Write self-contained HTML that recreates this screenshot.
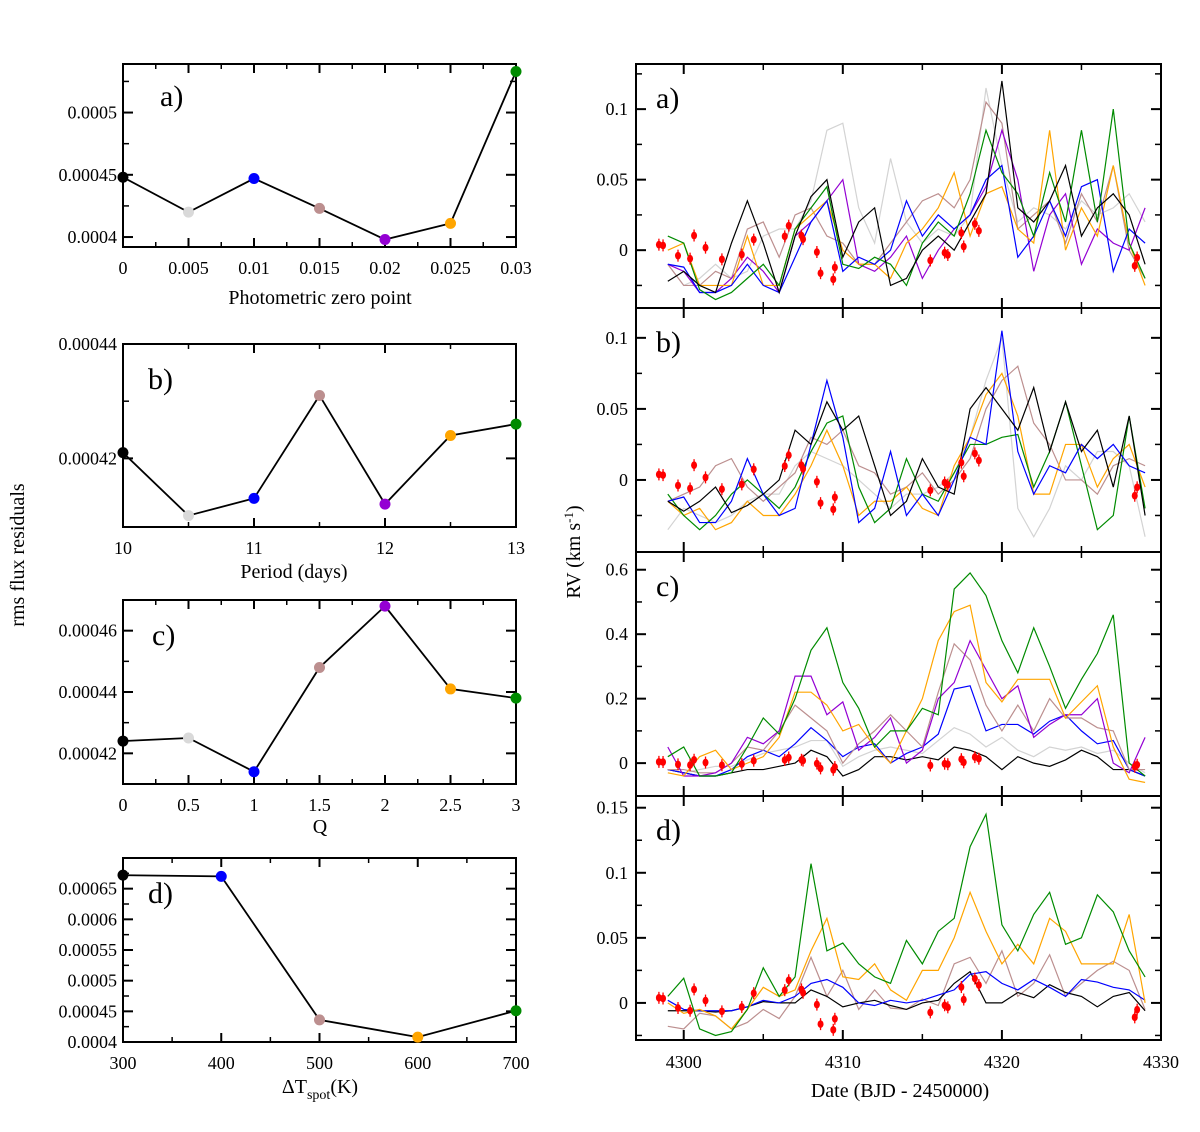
<!DOCTYPE html>
<html><head><meta charset="utf-8">
<style>
html,body{margin:0;padding:0;background:#fff;}
svg{display:block;font-family:"Liberation Serif",serif;}
</style></head>
<body>
<svg id="fig" width="1200" height="1132" viewBox="0 0 1200 1132" xmlns="http://www.w3.org/2000/svg"></svg>
<script>
// ---------- LEFT PANELS DATA ----------
const zpX = [0, 0.005, 0.01, 0.015, 0.02, 0.025, 0.03];
const zpRms = [0.000448, 0.000420, 0.000447, 0.000423, 0.000398, 0.000411, 0.000533];
const zpColors = ["#000000","#d9d9d9","#0000ff","#bc8f8f","#9400d3","#ffa500","#008b00"];
const perX = [10, 10.5, 11, 11.5, 12, 12.5, 13];
const perRms = [0.000421, 0.000410, 0.000413, 0.000431, 0.000412, 0.000424, 0.000426];
const qX = [0, 0.5, 1, 1.5, 2, 2.5, 3];
const qRms = [0.000424, 0.000425, 0.000414, 0.000448, 0.000468, 0.000441, 0.000438];
const dtX = [300, 400, 500, 600, 700];
const dtRms = [0.000672, 0.000670, 0.000436, 0.000408, 0.000451];
const dtColors = ["#000000","#0000ff","#bc8f8f","#ffa500","#008b00"];
const zpTicks = ["0","0.005","0.01","0.015","0.02","0.025","0.03"];
const perTicks = ["10","11","12","13"];
const qTicks = ["0","0.5","1","1.5","2","2.5","3"];
const dtTicks = ["300","400","500","600","700"];

// ---------- RIGHT PANELS DATA ----------
const dates = [4299,4300,4301,4302,4303,4304,4305,4306,4307,4308,4309,4310,4311,4312,4313,4314,4315,4316,4317,4318,4319,4320,4321,4322,4323,4324,4325,4326,4327,4328,4329];
const obsDates = [4298.44,4298.7,4299.64,4300.4,4300.65,4301.37,4302.4,4303.65,4304.4,4306.35,4306.6,4307.4,4307.5,4308.37,4308.6,4309.4,4309.5,4315.5,4316.4,4316.6,4317.45,4317.6,4318.3,4318.55,4328.35,4328.5];
const obsRV = [0.0039,0.0034,-0.0039,-0.006,0.0104,0.0018,-0.0065,-0.0031,0.0075,0.0098,0.0174,0.0104,0.0078,-0.0013,-0.0163,-0.0207,-0.0122,-0.0073,-0.0018,-0.0034,0.0122,0.0026,0.0187,0.0137,-0.0111,-0.0052];
// panel a (units 0.01 km/s)
const aGray = [-1.0,-2.5,-2.0,-1.0,-2.0,-1.5,1.0,1.5,1.5,3.5,8.5,9.0,3.0,0.5,6.5,2.0,0.5,1.5,1.0,2.5,11.5,6.0,2.0,3.0,2.5,1.5,3.5,2.5,3.0,4.0,2.0];
const aRosy = [-1.0,-2.5,-2.5,-1.5,-2.0,1.5,2.0,-0.5,2.5,3.0,1.0,0.5,-1.0,-1.0,0.5,2.0,3.5,4.0,3.0,5.0,10.5,9.0,1.5,2.5,3.5,0.5,4.0,2.0,6.0,0.0,-2.0];
const aPurple = [-1.0,-1.5,-3.0,-3.0,-2.0,-0.5,-1.5,-3.0,1.0,2.0,3.5,5.0,-1.0,-1.5,-0.5,1.0,-2.0,0.0,1.5,2.5,4.5,8.5,5.0,-1.5,2.5,4.0,-1.0,1.5,0.5,0.0,3.0];
const aOrange = [0.0,0.5,-2.5,-2.5,-2.5,1.0,-2.5,-2.5,1.5,2.5,3.5,0.0,-1.0,-1.0,-2.0,0.5,1.5,3.0,5.5,1.0,4.0,4.5,1.5,0.5,8.5,0.0,3.0,1.0,6.0,0.5,-2.5];
const aBlue = [-1.0,-1.2,-3.0,-3.0,-2.5,-1.0,-2.5,-3.0,-0.5,2.0,3.5,-1.5,-0.5,-1.0,0.0,3.5,1.0,2.5,1.5,2.5,5.0,6.0,-0.5,1.0,3.5,1.0,4.5,5.0,-1.5,1.5,0.5];
const aGreen = [1.0,0.5,-2.8,-3.5,-3.0,-2.0,-1.0,-2.5,1.5,3.0,4.5,-1.0,-1.3,-0.5,-1.0,-2.5,0.5,2.0,1.0,4.0,8.5,5.5,4.0,1.0,5.5,2.0,8.5,2.0,10.0,0.5,-2.0];
const aBlack = [-2.2,-1.5,-2.5,-3.0,0.5,3.5,0.5,-3.0,1.0,3.8,5.0,-0.5,2.0,3.0,-2.5,-2.0,0.0,1.0,0.0,2.0,4.0,12.0,3.0,2.0,3.5,6.0,1.0,3.0,4.0,2.5,-1.0];
// panel b (units 0.01 km/s)
const bGray = [-3.5,-2.0,-2.5,-3.0,-2.5,-1.5,-1.0,-1.0,1.0,2.0,1.5,1.0,0.0,-1.0,-2.0,-1.0,-1.0,-0.5,0.5,3.0,7.0,10.0,-2.0,-4.0,-2.0,1.0,0.0,2.0,2.0,1.0,-4.0];
const bRosy = [-1.5,-1.0,-0.5,1.0,1.5,-0.5,-1.5,-0.5,0.5,3.0,2.5,3.5,1.0,0.5,-1.0,-0.5,0.5,-1.0,0.0,1.5,5.0,7.0,8.0,4.0,2.5,0.0,0.0,-1.0,1.0,1.5,1.0];
const bOrange = [-1.5,-2.5,-2.0,-3.5,-3.0,-1.5,-2.5,-2.5,-1.0,1.0,3.5,1.0,-2.5,-1.5,-1.5,-0.5,-2.0,-2.5,1.0,3.0,6.0,7.5,4.5,-1.0,-1.0,2.5,2.5,-0.5,1.5,2.5,-0.5];
const bGreen = [-1.0,-2.5,-3.5,-2.5,-1.0,0.0,-1.0,-2.0,-0.5,2.0,4.0,4.5,-0.5,-3.0,-2.0,1.5,-1.0,-1.5,0.5,2.5,2.5,3.0,3.2,-0.5,2.0,5.5,1.0,-3.5,-2.5,4.5,-2.0];
const bBlue = [-1.5,-1.2,-3.0,-3.0,-1.5,1.5,-1.0,-2.5,-2.0,2.5,7.0,3.0,-3.0,-2.0,2.0,-2.5,-1.0,-2.5,0.0,3.0,2.5,10.5,2.0,-1.0,1.0,0.5,2.5,1.5,2.5,1.0,0.5];
const bBlack = [-1.5,-2.2,-1.5,-0.5,-2.3,-1.8,-1.0,0.0,3.5,2.5,5.5,3.5,4.5,1.0,-2.5,-1.5,1.5,-0.5,-1.0,5.0,6.5,5.0,3.5,6.5,2.0,5.5,2.0,3.5,-0.5,4.5,-2.5];
// panel c (km/s)
const cGray = [-0.02,-0.03,-0.02,-0.01,-0.01,0.01,0.03,0.04,0.05,0.07,0.07,-0.01,0.02,0.04,0.05,0.04,0.03,0.07,0.11,0.09,0.05,0.08,0.04,0.02,0.05,0.04,0.05,0.03,0.04,0.0,-0.03];
const cBlack = [-0.02,-0.03,-0.04,-0.04,-0.03,-0.02,-0.02,-0.01,0.0,0.04,0.02,-0.04,-0.02,0.02,0.02,0.01,0.02,0.01,0.05,0.04,0.02,-0.02,0.02,0.0,-0.01,0.01,0.04,0.02,-0.02,-0.02,-0.04];
const cBlue = [-0.02,-0.03,-0.04,-0.04,-0.02,0.02,0.04,0.02,0.06,0.11,0.07,0.02,0.05,0.06,0.0,0.03,0.05,0.09,0.23,0.24,0.10,0.12,0.12,0.09,0.13,0.15,0.10,0.06,0.07,-0.02,-0.04];
const cRosy = [-0.02,-0.02,-0.03,-0.03,0.0,0.05,0.04,0.10,0.18,0.14,0.10,0.0,0.06,0.10,0.15,0.10,0.05,0.22,0.37,0.32,0.18,0.10,0.18,0.10,0.20,0.14,0.14,0.11,0.10,-0.02,-0.02];
const cPurple = [0.05,-0.04,-0.04,-0.03,0.0,0.08,0.06,0.10,0.27,0.27,0.15,0.19,0.04,0.08,0.14,0.0,0.04,0.20,0.25,0.38,0.29,0.20,0.24,0.08,0.12,0.15,0.15,0.20,0.0,-0.03,0.08];
const cOrange = [-0.03,-0.04,0.02,0.04,-0.02,0.0,0.02,0.08,0.22,0.22,0.18,0.10,0.12,0.05,0.0,0.10,0.20,0.38,0.47,0.49,0.25,0.19,0.26,0.26,0.26,0.14,0.19,0.24,0.05,-0.05,-0.06];
const cGreen = [0.02,0.05,-0.04,-0.04,-0.03,0.05,0.14,0.09,0.20,0.35,0.42,0.25,0.17,0.05,0.10,0.10,0.17,0.15,0.54,0.59,0.52,0.38,0.28,0.42,0.30,0.17,0.26,0.34,0.46,0.0,-0.04];
// panel d (km/s)
const dRosy = [-0.018,-0.02,-0.008,-0.01,-0.02,-0.015,-0.005,-0.012,0.005,0.035,0.005,0.025,-0.005,0.01,-0.004,-0.005,0.003,-0.002,0.03,0.035,0.015,0.04,0.005,0.015,0.037,0.005,0.015,0.025,0.032,0.025,-0.005];
const dBlack = [-0.006,-0.006,-0.006,-0.007,-0.006,-0.003,0.001,0.0,0.0,0.01,0.005,-0.003,0.0,0.002,-0.002,-0.005,0.0,0.002,0.015,0.024,0.0,0.0,0.008,0.004,0.014,0.008,0.005,-0.003,0.005,0.008,-0.006];
const dBlue = [0.002,-0.005,-0.006,-0.006,-0.006,-0.003,0.002,0.0,0.005,0.015,0.018,0.012,0.0,-0.002,0.002,0.0,0.002,0.006,0.01,0.022,0.024,0.015,0.01,0.018,0.012,0.005,0.018,0.016,0.012,0.01,0.002];
const dOrange = [0.0,-0.008,-0.005,-0.01,-0.02,-0.005,0.012,0.005,0.01,0.04,0.065,0.02,0.018,0.03,0.01,0.002,0.025,0.025,0.05,0.085,0.055,0.03,0.045,0.03,0.065,0.055,0.03,0.03,0.03,0.068,0.0];
const dGreen = [0.005,0.019,-0.02,-0.025,-0.022,-0.005,0.027,0.005,0.02,0.107,0.04,0.046,0.03,0.02,0.015,0.048,0.03,0.055,0.065,0.12,0.145,0.06,0.04,0.068,0.085,0.045,0.05,0.083,0.07,0.04,0.02];
const rvTicksA = ["0","0.05","0.1"];
const rvTicksC = ["0","0.2","0.4","0.6"];
const rvTicksD = ["0","0.05","0.1","0.15"];
const dateTicks = ["4300","4310","4320","4330"];

// ---------- DRAWING ----------
const svg = document.getElementById('fig');
const NS = 'http://www.w3.org/2000/svg';
const TICK_FS = 18, TITLE_FS = 20, LABEL_FS = 30;
function mk(tag, attrs, parent){const e=document.createElementNS(NS,tag);for(const k in attrs)e.setAttribute(k,attrs[k]);(parent||svg).appendChild(e);return e;}
function txt(s, x, y, size, anchor, parent){const t=mk('text',{x:x,y:y,'font-size':size,'text-anchor':anchor||'middle',fill:'#000'},parent);t.textContent=s;return t;}
function lin(d0,d1,r0,r1){return v=>r0+(v-d0)/(d1-d0)*(r1-r0);}

// Left panels
function leftPanel(name, box, xd, yd, xs, ys, colors, xMaj, xMin, yMaj, yMin, xLabels, yLabels, yLabelVals, label){
  const g = mk('g',{});
  
  
  const X = lin(xd[0],xd[1],box.l,box.r), Y = lin(yd[0],yd[1],box.b,box.t);
  mk('rect',{x:box.l,y:box.t,width:box.r-box.l,height:box.b-box.t,fill:'none',stroke:'#000','stroke-width':2},g);
  xMaj.forEach(v=>{const x=X(v);mk('line',{x1:x,y1:box.b,x2:x,y2:box.b-9,stroke:'#000','stroke-width':2},g);mk('line',{x1:x,y1:box.t,x2:x,y2:box.t+9,stroke:'#000','stroke-width':2},g);});
  xMin.forEach(v=>{const x=X(v);mk('line',{x1:x,y1:box.b,x2:x,y2:box.b-5,stroke:'#000','stroke-width':1.5},g);mk('line',{x1:x,y1:box.t,x2:x,y2:box.t+5,stroke:'#000','stroke-width':1.5},g);});
  yMaj.forEach(v=>{const y=Y(v);mk('line',{x1:box.l,y1:y,x2:box.l+10,y2:y,stroke:'#000','stroke-width':2},g);mk('line',{x1:box.r,y1:y,x2:box.r-10,y2:y,stroke:'#000','stroke-width':2},g);});
  yMin.forEach(v=>{const y=Y(v);mk('line',{x1:box.l,y1:y,x2:box.l+6,y2:y,stroke:'#000','stroke-width':1.5},g);mk('line',{x1:box.r,y1:y,x2:box.r-6,y2:y,stroke:'#000','stroke-width':1.5},g);});
  xLabels.forEach((s,i)=>{const t=txt(s,X(parseFloat(s)),box.b+27,TICK_FS,'middle',g);});
  yLabels.forEach((s,i)=>{const t=txt(s,box.l-6,Y(yLabelVals[i])+6,TICK_FS,'end',g);});
  const pts = xs.map((v,i)=>X(v)+','+Y(ys[i])).join(' ');
  const pl = mk('polyline',{points:pts,fill:'none',stroke:'#000','stroke-width':1.8},g);
  
  
  xs.forEach((v,i)=>{const c=mk('circle',{cx:X(v),cy:Y(ys[i]),r:5.5,fill:colors[i]},g);
    
    });
  const lt = txt(label.t, label.x, label.y, LABEL_FS, 'start', g);
  
  
  return {g:g, X:X, Y:Y};
}
const LL=123, LR=516;
leftPanel('panel-a-zero-point',{l:LL,r:LR,t:64,b:247},[0,0.03],[0.000392,0.000539],zpX,zpRms,zpColors,
  [0,0.005,0.01,0.015,0.02,0.025,0.03],[0.0025,0.0075,0.0125,0.0175,0.0225,0.0275],
  [0.0004,0.00045,0.0005],[0.000425,0.000475,0.000525],zpTicks,["0.0004","0.00045","0.0005"],[0.0004,0.00045,0.0005],{t:'a)',x:160,y:106});
const ta=txt('Photometric zero point',320,304,TITLE_FS);

leftPanel('panel-b-period',{l:LL,r:LR,t:344,b:527},[10,13],[0.000408,0.00044],perX,perRms,zpColors,
  [10,11,12,13],[10.5,11.5,12.5],[0.00042,0.00044],[0.00043],perTicks,["0.00042","0.00044"],[0.00042,0.00044],{t:'b)',x:148,y:389});
const tb=txt('Period (days)',294,578,TITLE_FS);

leftPanel('panel-c-q',{l:LL,r:LR,t:600,b:784},[0,3],[0.000410,0.000470],qX,qRms,zpColors,
  [0,0.5,1,1.5,2,2.5,3],[0.25,0.75,1.25,1.75,2.25,2.75],[0.00042,0.00044,0.00046],[0.00043,0.00045],qTicks,["0.00042","0.00044","0.00046"],[0.00042,0.00044,0.00046],{t:'c)',x:152,y:645});
const tc=txt('Q',320,833,TITLE_FS);

leftPanel('panel-d-delta-t',{l:LL,r:LR,t:858,b:1042},[300,700],[0.0004,0.0007],dtX,dtRms,dtColors,
  [300,400,500,600,700],[350,450,550,650],[0.0004,0.00045,0.0005,0.00055,0.0006,0.00065],[0.000425,0.000475,0.000525,0.000575,0.000625,0.000675],dtTicks,
  ["0.0004","0.00045","0.0005","0.00055","0.0006","0.00065"],[0.0004,0.00045,0.0005,0.00055,0.0006,0.00065],{t:'d)',x:148,y:903});
const td=mk('text',{x:320,y:1093,'font-size':TITLE_FS,'text-anchor':'middle'});


td.innerHTML='ΔT<tspan font-size="14" dy="6">spot</tspan><tspan dy="-6">(K)</tspan>';

const yl=txt('rms flux residuals',0,0,TITLE_FS);
yl.setAttribute('transform','translate(24,555) rotate(-90)');



// Right panels
const RL=636, RR=1161;
const XD = lin(4297,4330,RL,RR);
const colorMap={gray:'#d3d3d3',rosy:'#bc8f8f',purple:'#9400d3',orange:'#ffa500',blue:'#0000ff',green:'#008b00',black:'#000000'};
function rightPanel(name, t, b, yd, series, unit, yMaj, yMin, yLab, label){
  const g=mk('g',{});
  
  
  const Y=lin(yd[0],yd[1],b,t);
  mk('rect',{x:RL,y:t,width:RR-RL,height:b-t,fill:'none',stroke:'#000','stroke-width':2},g);
  [4300,4310,4320,4330].forEach(v=>{const x=XD(v);mk('line',{x1:x,y1:b,x2:x,y2:b-10,stroke:'#000','stroke-width':2},g);mk('line',{x1:x,y1:t,x2:x,y2:t+10,stroke:'#000','stroke-width':2},g);});
  [4305,4315,4325].forEach(v=>{const x=XD(v);mk('line',{x1:x,y1:b,x2:x,y2:b-6,stroke:'#000','stroke-width':1.5},g);mk('line',{x1:x,y1:t,x2:x,y2:t+6,stroke:'#000','stroke-width':1.5},g);});
  yMaj.forEach(v=>{const y=Y(v);mk('line',{x1:RL,y1:y,x2:RL+10,y2:y,stroke:'#000','stroke-width':2},g);mk('line',{x1:RR,y1:y,x2:RR-10,y2:y,stroke:'#000','stroke-width':2},g);});
  yMin.forEach(v=>{const y=Y(v);mk('line',{x1:RL,y1:y,x2:RL+6,y2:y,stroke:'#000','stroke-width':1.5},g);mk('line',{x1:RR,y1:y,x2:RR-6,y2:y,stroke:'#000','stroke-width':1.5},g);});
  yLab.forEach(s=>{const tt=txt(s,RL-8,Y(parseFloat(s))+6,TICK_FS,'end',g);});
  series.forEach(sr=>{
    const pts=dates.map((d,i)=>XD(d)+','+Y(sr.v[i]*unit)).join(' ');
    const p=mk('polyline',{points:pts,fill:'none',stroke:colorMap[sr.c],'stroke-width':1.2},g);
    
    
  });
  obsDates.forEach((d,i)=>{
    const x=XD(d), y=Y(obsRV[i]);
    const c=mk('ellipse',{cx:x,cy:y,rx:3,ry:3.8,fill:'#ff0000'},g);
    
    
    mk('line',{x1:x,y1:y-6,x2:x,y2:y+6,stroke:'#ff0000','stroke-width':1.3},g);
  });
  const lt=txt(label,RL+20,t+44,LABEL_FS,'start',g);
  
  
  return g;
}
rightPanel('rv-panel-a',64,308,[-0.041,0.132],[
  {c:'gray',v:aGray},{c:'rosy',v:aRosy},{c:'purple',v:aPurple},{c:'orange',v:aOrange},{c:'blue',v:aBlue},{c:'green',v:aGreen},{c:'black',v:aBlack}],
  0.01,[0,0.05,0.1],[-0.025,0.025,0.075,0.125],rvTicksA,'a)');
rightPanel('rv-panel-b',308,552,[-0.0507,0.121],[
  {c:'gray',v:bGray},{c:'rosy',v:bRosy},{c:'orange',v:bOrange},{c:'green',v:bGreen},{c:'blue',v:bBlue},{c:'black',v:bBlack}],
  0.01,[0,0.05,0.1],[-0.025,0.025,0.075],rvTicksA,'b)');
rightPanel('rv-panel-c',552,796,[-0.102,0.655],[
  {c:'gray',v:cGray},{c:'black',v:cBlack},{c:'blue',v:cBlue},{c:'rosy',v:cRosy},{c:'purple',v:cPurple},{c:'orange',v:cOrange},{c:'green',v:cGreen}],
  1,[0,0.2,0.4,0.6],[0.1,0.3,0.5],rvTicksC,'c)');
rightPanel('rv-panel-d',796,1040,[-0.0285,0.159],[
  {c:'rosy',v:dRosy},{c:'black',v:dBlack},{c:'blue',v:dBlue},{c:'orange',v:dOrange},{c:'green',v:dGreen}],
  1,[0,0.05,0.1,0.15],[-0.025,0.025,0.075,0.125],rvTicksD,'d)');
dateTicks.forEach(s=>{const t=txt(s,XD(parseFloat(s)),1068,TICK_FS);});
const xt=txt('Date (BJD - 2450000)',900,1097,TITLE_FS);


const ry=mk('text',{'font-size':TITLE_FS,'text-anchor':'middle',transform:'translate(580,552) rotate(-90)'});


ry.innerHTML='RV (km s<tspan font-size="13" dy="-7">-1</tspan><tspan dy="7">)</tspan>';
</script>
</body></html>
